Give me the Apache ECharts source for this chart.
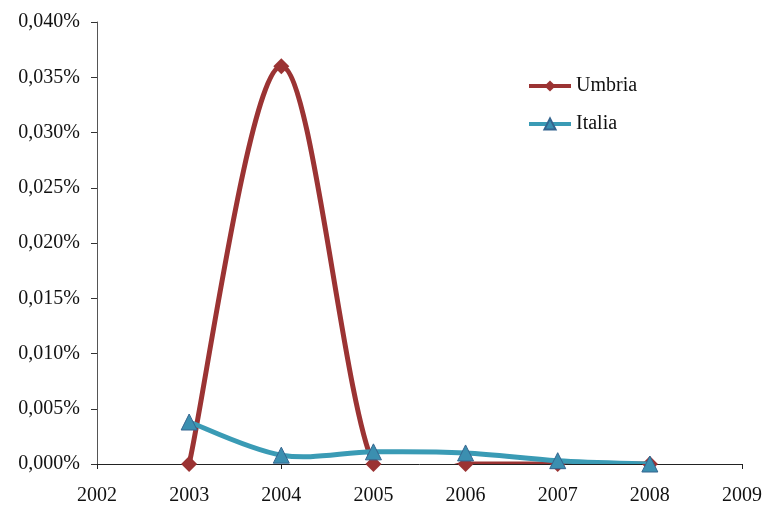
<!DOCTYPE html>
<html>
<head>
<meta charset="utf-8">
<script src="https://cdn.jsdelivr.net/npm/echarts@6/dist/echarts.min.js"></script>
<style>
  html, body { margin: 0; padding: 0; background: #fff; }
  #grafico { width: 766px; height: 506px; }
</style>
</head>
<body>
<div id="grafico"></div>
<script>
// anni e valori (percentuali)
const anni = [2003, 2004, 2005, 2006, 2007, 2008]
const umbria = [0, 0.036, 0, 0, 0, 0]
const italia = [0.0038, 0.0008, 0.0011, 0.0010, 0.0003, 0]

const font = '"Liberation Serif", "Times New Roman", serif'
const rosso = '#9b3333'
const azzurro = '#3a9bb5'

const chart = echarts.init(document.getElementById('grafico'))

// curva "smussata" come in Excel (bezier tipo Catmull-Rom), un tratto per punto
function curva(valori, colore, spessore) {
  const dati = anni.map((a, i) => [a, valori[i]])
  return {
    type: 'custom',
    clip: true,
    silent: true,
    data: dati,
    renderItem: (params, api) => {
      const i = params.dataIndex
      if (i >= dati.length - 1) return null
      const p = dati.map(d => api.coord(d))
      const p0 = p[i]
      const p3 = p[i + 1]
      const prima = p[i - 1] || p0
      const dopo = p[i + 2] || p3
      return {
        type: 'bezierCurve',
        shape: {
          x1: p0[0], y1: p0[1],
          x2: p3[0], y2: p3[1],
          cpx1: p0[0] + (p3[0] - prima[0]) / 6,
          cpy1: p0[1] + (p3[1] - prima[1]) / 6,
          cpx2: p3[0] - (dopo[0] - p0[0]) / 6,
          cpy2: p3[1] - (dopo[1] - p0[1]) / 6
        },
        style: { stroke: colore, lineWidth: spessore, fill: null, lineCap: 'round' }
      }
    }
  }
}

let option = {
  animation: false,
  grid: {
    left: 97,
    right: 24,
    top: 22,
    bottom: 42
  },
  legend: {
    orient: 'vertical',
    left: 527,
    top: 76,
    padding: 0,
    itemWidth: 42,
    itemHeight: 14,
    itemGap: 18,
    textStyle: { fontFamily: font, fontSize: 20, color: '#111' },
    data: [
      { name: 'Umbria', lineStyle: { opacity: 1, width: 4 } },
      { name: 'Italia', lineStyle: { opacity: 1, width: 4 } }
    ]
  },
  xAxis: {
    type: 'value',
    min: 2002,
    max: 2009,
    interval: 1,
    splitLine: { show: false },
    axisLine: { lineStyle: { color: '#222', width: 1 } },
    axisTick: { show: true, length: 5, lineStyle: { color: '#222' } },
    axisLabel: {
      fontFamily: font,
      fontSize: 20,
      color: '#111',
      margin: 22,
      formatter: v => String(v)
    }
  },
  yAxis: {
    type: 'value',
    min: 0,
    max: 0.04,
    interval: 0.005,
    splitLine: { show: false },
    axisLine: { show: true, lineStyle: { color: '#555', width: 1 } },
    axisTick: { show: true, length: 6, lineStyle: { color: '#333' } },
    axisLabel: {
      fontFamily: font,
      fontSize: 20,
      color: '#111',
      margin: 17,
      formatter: v => v.toFixed(3).replace('.', ',') + '%'
    }
  },
  series: [
    Object.assign(curva(umbria, rosso, 5), { z: 2 }),
    {
      name: 'Umbria',
      type: 'line',
      z: 3,
      clip: false,
      data: anni.map((a, i) => [a, umbria[i]]),
      symbol: 'diamond',
      symbolSize: 16,
      lineStyle: { color: rosso, width: 4, opacity: 0 },
      itemStyle: { color: rosso }
    },
    Object.assign(curva(italia, azzurro, 5), { z: 4 }),
    {
      name: 'Italia',
      type: 'line',
      z: 5,
      clip: false,
      data: anni.map((a, i) => [a, italia[i]]),
      symbol: 'triangle',
      symbolSize: 16,
      lineStyle: { color: azzurro, width: 4, opacity: 0 },
      itemStyle: { color: '#3b8fb0', borderColor: '#35658f', borderWidth: 1 }
    }
  ]
}

chart.setOption(option)
</script>
</body>
</html>
